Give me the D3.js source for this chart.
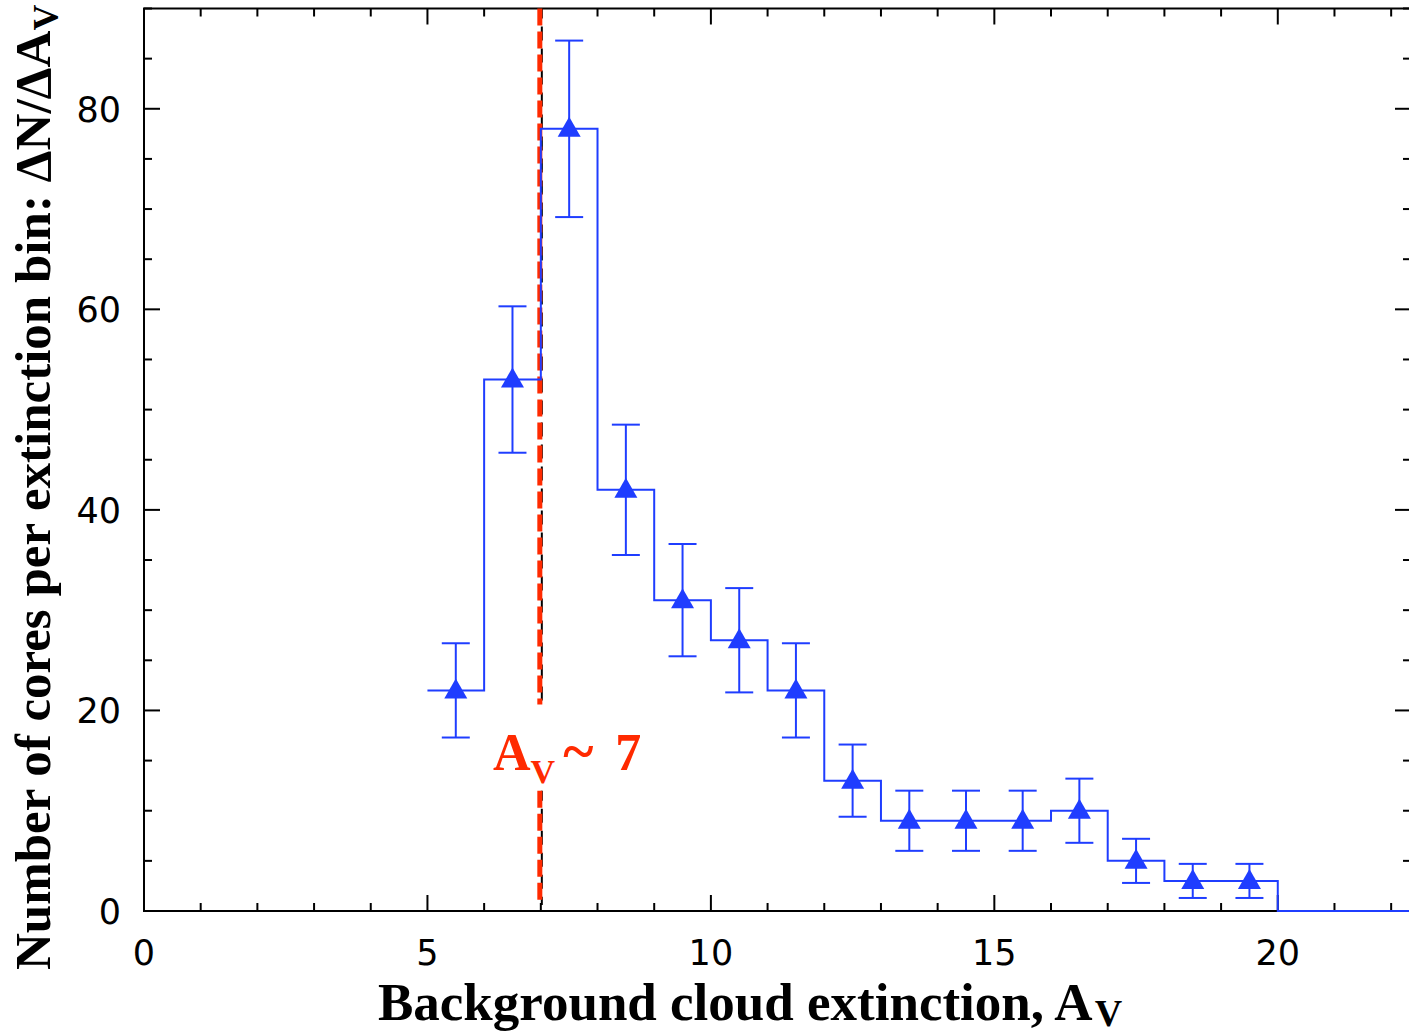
<!DOCTYPE html>
<html>
<head>
<meta charset="utf-8">
<script src="https://cdn.jsdelivr.net/npm/d3@7"></script>
<style>
  body { margin: 0; background: #fff; }
  svg { display: block; }
</style>
</head>
<body>
<div class="plot"></div>
<script>
// bin edges (lower) and counts per bin of A_V
var binStart = [5, 6, 7, 8, 9, 10, 11, 12, 13, 14, 15, 16, 17, 18, 19];
var counts   = [22, 53, 78, 42, 31, 27, 22, 13, 9, 9, 9, 10, 5, 3, 3];
var errs     = [4.7, 7.3, 8.8, 6.5, 5.6, 5.2, 4.7, 3.6, 3, 3, 3, 3.2, 2.2, 1.7, 1.7];
var xTicks = [0, 5, 10, 15, 20];
var yTicks = [0, 20, 40, 60, 80];
var threshold = 7;

var W = 1409, H = 1032;
var mLeft = 144, mRight = 1411, mTop = 8.5, mBottom = 911;
var blue = "#1f3dff", red = "#ff2a00";

var svg = d3.select(".plot").append("svg")
  .attr("width", W)
  .attr("height", H);

var x = d3.scaleLinear().domain([0, 22.35]).range([mLeft, mRight]);
var y = d3.scaleLinear().domain([0, 90]).range([mBottom, mTop]);

// frame
svg.append("rect")
  .attr("x", mLeft).attr("y", mTop)
  .attr("width", mRight - mLeft).attr("height", mBottom - mTop)
  .attr("fill", "none").attr("stroke", "#000").attr("stroke-width", 2);

// inward ticks on all sides
var xMinor = d3.range(0, 23, 1);
var yMinor = d3.range(0, 91, 5);
function tickLen(v, step) { return v % step === 0 ? 16 : 8; }
var tk = svg.append("g").attr("stroke", "#000").attr("stroke-width", 2);
xMinor.forEach(function(v) {
  var L = tickLen(v, 5);
  tk.append("line").attr("x1", x(v)).attr("x2", x(v)).attr("y1", mBottom).attr("y2", mBottom - L);
  tk.append("line").attr("x1", x(v)).attr("x2", x(v)).attr("y1", mTop).attr("y2", mTop + L);
});
yMinor.forEach(function(v) {
  var L = tickLen(v, 20);
  tk.append("line").attr("y1", y(v)).attr("y2", y(v)).attr("x1", mLeft).attr("x2", mLeft + L);
  tk.append("line").attr("y1", y(v)).attr("y2", y(v)).attr("x1", mRight).attr("x2", mRight - L);
});

// tick labels
svg.append("g").selectAll("text").data(xTicks).enter().append("text")
  .attr("x", function(d) { return x(d); })
  .attr("y", 965)
  .attr("text-anchor", "middle")
  .style("font-family", "DejaVu Sans, sans-serif")
  .style("font-size", "35px")
  .text(function(d) { return d; });

svg.append("g").selectAll("text").data(yTicks).enter().append("text")
  .attr("x", 121)
  .attr("y", function(d) { return y(d) + 13; })
  .attr("text-anchor", "end")
  .style("font-family", "DejaVu Sans, sans-serif")
  .style("font-size", "35px")
  .text(function(d) { return d; });

// dashed threshold line (black under red), broken around label
var dashG = svg.append("g");
[[90, 20.6], [12, 0.6]].forEach(function(seg) {
  dashG.append("line")
    .attr("x1", x(threshold) + 1).attr("x2", x(threshold) + 1)
    .attr("y1", y(seg[0])).attr("y2", y(seg[1]))
    .attr("stroke", "#000").attr("stroke-width", 2)
    .attr("stroke-dasharray", "14,8").attr("stroke-dashoffset", 4);
  dashG.append("line")
    .attr("x1", x(threshold) - 1).attr("x2", x(threshold) - 1)
    .attr("y1", y(seg[0])).attr("y2", y(seg[1]))
    .attr("stroke", red).attr("stroke-width", 5)
    .attr("stroke-dasharray", "17,6");
});

// step histogram
var stepPts = [];
binStart.forEach(function(b, i) {
  stepPts.push([b, counts[i]]);
  stepPts.push([b + 1, counts[i]]);
});
var last = binStart[binStart.length - 1] + 1;
stepPts.push([last, 0]);
stepPts.push([22.35, 0]);
svg.append("path")
  .attr("d", d3.line().x(function(d) { return x(d[0]); }).y(function(d) { return y(d[1]); })(stepPts))
  .attr("fill", "none").attr("stroke", blue).attr("stroke-width", 2);

// error bars
var eb = svg.append("g").attr("stroke", blue).attr("stroke-width", 2);
binStart.forEach(function(b, i) {
  var cx = x(b + 0.5);
  var lo = y(counts[i] - errs[i]), hi = y(counts[i] + errs[i]);
  eb.append("line").attr("x1", cx).attr("x2", cx).attr("y1", lo).attr("y2", hi);
  eb.append("line").attr("x1", cx - 14).attr("x2", cx + 14).attr("y1", lo).attr("y2", lo);
  eb.append("line").attr("x1", cx - 14).attr("x2", cx + 14).attr("y1", hi).attr("y2", hi);
});

// triangle markers
svg.append("g").selectAll("path").data(counts).enter().append("path")
  .attr("d", function(d, i) {
    var cx = x(binStart[i] + 0.5), cy = y(d);
    return "M" + cx + "," + (cy - 12) + "L" + (cx + 11.5) + "," + (cy + 8) + "L" + (cx - 11.5) + "," + (cy + 8) + "Z";
  })
  .attr("fill", blue);

// threshold label
var lab = svg.append("text")
  .attr("x", 493).attr("y", 770)
  .attr("fill", red)
  .style("font-family", "Liberation Serif, serif")
  .style("font-weight", "bold")
  .style("font-size", "52px");
lab.append("tspan").text("A");
lab.append("tspan").attr("dy", 13).style("font-size", "34px").text("V");
lab.append("tspan").attr("dy", -13).attr("dx", 8).style("font-size", "58px").text("~");
lab.append("tspan").attr("dx", 22).text("7");

// axis titles
var xt = svg.append("text")
  .attr("x", 378).attr("y", 1020)
  .style("font-family", "Liberation Serif, serif")
  .style("font-weight", "bold")
  .style("font-size", "53px");
xt.append("tspan").text("Background cloud extinction, A");
xt.append("tspan").attr("dy", 6).attr("dx", 2).style("font-size", "38px").text("V");

var yt = svg.append("text")
  .attr("transform", "translate(50,970) rotate(-90)")
  .style("font-family", "Liberation Serif, serif")
  .style("font-weight", "bold")
  .style("font-size", "51px");
yt.append("tspan").text("Number of cores per extinction bin: \u0394N/\u0394A");
yt.append("tspan").attr("dy", 8).style("font-size", "36px").text("V");
</script>
</body>
</html>
